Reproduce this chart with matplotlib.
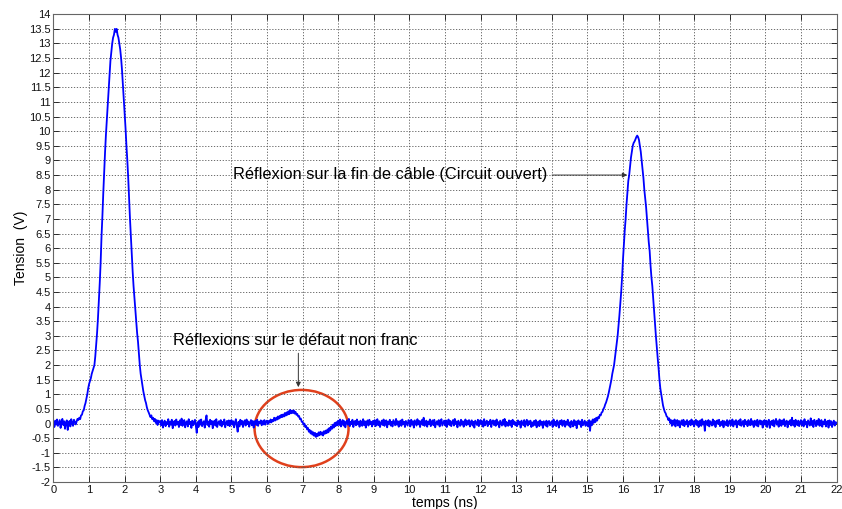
import matplotlib
matplotlib.use("Agg")
import matplotlib.pyplot as plt
from matplotlib.patches import Ellipse
import numpy as np

plt.rcParams['font.family'] = ['Liberation Sans', 'DejaVu Sans']

# sampled voltage, one row per nanosecond (step 0.025 ns)
tension = [
    # 0 ns
    0.05, -0.12, 0.10, -0.04, 0.14, -0.08, 0.02, 0.12, -0.15, 0.06, 0.16, -0.05, 0.08, -0.18, 0.04, 0.11, -0.22, 0.00, 0.09, -0.10,
    0.15, 0.02, -0.08, 0.13, 0.06, -0.03, 0.07, 0.16, 0.12, 0.20, 0.15, 0.28, 0.30, 0.42, 0.45, 0.60, 0.70, 0.85, 1.00, 1.20,
    # 1 ns
    1.35, 1.45, 1.55, 1.70, 1.80, 1.90, 2.00, 2.30, 2.70, 3.10, 3.60, 4.20, 4.80, 5.50, 6.40, 7.10, 7.90, 8.60, 9.30, 9.90,
    10.4, 10.9, 11.4, 11.9, 12.4, 12.7, 13.0, 13.2, 13.3, 13.5, 13.4, 13.5, 13.3, 13.2, 13.0, 12.8, 12.5, 12.1, 11.6, 11.1,
    # 2 ns
    10.6, 10.1, 9.50, 9.00, 8.40, 7.70, 7.00, 6.40, 5.80, 5.20, 4.70, 4.30, 3.90, 3.50, 3.10, 2.80, 2.40, 2.00, 1.70, 1.50,
    1.30, 1.10, 0.95, 0.80, 0.70, 0.55, 0.45, 0.38, 0.30, 0.22, 0.28, 0.15, 0.20, 0.08, 0.16, 0.02, 0.12, -0.05, 0.10, 0.04,
    # 3 ns
    0.08, -0.06, 0.12, -0.14, 0.03, 0.10, -0.09, 0.05, -0.02, 0.15, -0.11, 0.07, -0.04, 0.13, -0.16, 0.02, 0.09, -0.07, 0.14, -0.03,
    0.06, -0.12, 0.11, -0.05, 0.17, -0.08, 0.01, 0.12, -0.13, 0.04, 0.08, -0.10, 0.15, -0.02, 0.06, -0.15, 0.10, -0.06, 0.03, 0.13,
    # 4 ns
    -0.08, -0.32, 0.05, -0.12, 0.11, -0.04, 0.14, -0.09, 0.02, 0.08, -0.14, 0.12, 0.28, -0.05, 0.07, -0.11, 0.13, -0.02, 0.09, -0.16,
    0.04, 0.10, -0.07, 0.15, -0.12, 0.03, 0.08, -0.05, 0.12, -0.10, 0.06, -0.03, 0.14, -0.13, 0.02, 0.09, -0.06, 0.11, -0.09, 0.05,
    # 5 ns
    0.12, -0.04, 0.08, -0.13, 0.03, 0.15, -0.08, -0.28, 0.06, -0.10, 0.13, -0.03, 0.09, -0.12, 0.05, 0.11, -0.07, 0.14, -0.02, 0.07,
    -0.11, 0.04, 0.12, -0.06, 0.09, -0.14, 0.02, 0.10, -0.05, 0.13, -0.08, 0.06, 0.01, 0.11, -0.06, 0.08, -0.03, 0.12, -0.04, 0.07,
    # 6 ns
    0.10, -0.02, 0.09, 0.03, 0.14, 0.04, 0.12, 0.08, 0.20, 0.10, 0.19, 0.13, 0.24, 0.16, 0.26, 0.20, 0.30, 0.22, 0.31, 0.24,
    0.36, 0.27, 0.38, 0.30, 0.42, 0.32, 0.47, 0.35, 0.44, 0.36, 0.45, 0.34, 0.40, 0.30, 0.33, 0.24, 0.26, 0.15, 0.17, 0.06,
    # 7 ns
    0.06, -0.04, 0.00, -0.12, -0.08, -0.20, -0.15, -0.28, -0.22, -0.34, -0.26, -0.38, -0.30, -0.42, -0.32, -0.46, -0.35, -0.43, -0.30, -0.40,
    -0.28, -0.38, -0.30, -0.41, -0.26, -0.35, -0.24, -0.33, -0.20, -0.30, -0.15, -0.24, -0.10, -0.18, -0.04, -0.14, 0.02, -0.09, 0.05, -0.06,
    # 8 ns
    0.10, -0.05, 0.14, -0.10, 0.04, 0.12, -0.07, 0.08, -0.13, 0.03, 0.11, -0.04, 0.16, -0.09, 0.06, -0.02, 0.13, -0.12, 0.05, 0.09,
    -0.06, 0.14, -0.03, 0.07, -0.11, 0.10, 0.02, -0.08, 0.15, -0.05, 0.08, -0.14, 0.04, 0.11, -0.07, 0.13, -0.02, 0.06, -0.10, 0.09,
    # 9 ns
    -0.03, 0.12, -0.09, 0.05, 0.15, -0.06, 0.08, -0.12, 0.02, 0.10, -0.05, 0.14, -0.08, 0.04, 0.11, -0.13, 0.07, -0.01, 0.13, -0.07,
    0.06, -0.10, 0.12, 0.03, -0.06, 0.16, -0.04, 0.08, -0.11, 0.05, 0.10, -0.08, 0.14, -0.02, 0.06, -0.12, 0.09, 0.01, -0.07, 0.12,
    # 10 ns
    0.05, -0.10, 0.13, -0.04, 0.08, -0.14, 0.11, 0.02, -0.07, 0.15, -0.03, 0.09, -0.12, 0.06, 0.12, -0.05, 0.20, -0.08, 0.04, 0.10,
    -0.11, 0.07, -0.02, 0.14, -0.09, 0.05, 0.11, -0.06, 0.13, -0.13, 0.03, 0.08, -0.04, 0.12, -0.10, 0.06, 0.15, -0.07, 0.02, 0.10,
    # 11 ns
    -0.06, 0.11, -0.12, 0.04, 0.14, -0.05, 0.09, -0.09, 0.03, 0.12, -0.07, 0.16, -0.02, 0.07, -0.13, 0.10, 0.01, -0.08, 0.13, -0.04,
    0.08, -0.11, 0.05, 0.14, -0.06, 0.09, -0.03, 0.12, -0.10, 0.04, 0.11, -0.07, 0.06, -0.14, 0.10, 0.02, -0.05, 0.13, -0.09, 0.07,
    # 12 ns
    0.12, -0.04, 0.08, -0.11, 0.15, -0.06, 0.03, 0.10, -0.09, 0.06, -0.02, 0.13, -0.12, 0.07, 0.11, -0.05, 0.09, -0.08, 0.14, -0.03,
    0.05, -0.13, 0.10, 0.02, -0.07, 0.12, -0.04, 0.16, -0.10, 0.06, 0.01, -0.08, 0.11, -0.05, 0.09, -0.12, 0.13, -0.02, 0.07, -0.06,
    # 13 ns
    0.04, -0.09, 0.11, -0.03, 0.07, -0.14, 0.10, 0.02, -0.06, 0.12, -0.11, 0.05, 0.13, -0.07, 0.08, -0.02, 0.10, -0.12, 0.04, -0.08,
    0.09, -0.05, 0.12, -0.13, 0.03, 0.07, -0.09, 0.11, -0.04, 0.06, -0.15, 0.08, 0.00, -0.07, 0.10, -0.11, 0.05, 0.09, -0.06, 0.02,
    # 14 ns
    0.08, -0.12, 0.14, -0.05, 0.06, -0.09, 0.11, 0.03, -0.14, 0.09, -0.02, 0.12, -0.08, 0.05, 0.10, -0.11, 0.07, -0.04, 0.13, -0.07,
    0.04, -0.13, 0.09, 0.02, -0.10, 0.12, -0.05, 0.08, -0.16, 0.06, 0.11, -0.03, 0.07, -0.12, 0.13, -0.06, 0.02, 0.10, -0.08, 0.05,
    # 15 ns
    0.05, -0.10, 0.12, -0.25, 0.08, -0.06, 0.14, 0.02, 0.16, 0.05, 0.20, 0.10, 0.22, 0.18, 0.30, 0.28, 0.38, 0.40, 0.50, 0.55,
    0.65, 0.72, 0.82, 0.92, 1.05, 1.20, 1.35, 1.50, 1.70, 1.85, 2.00, 2.25, 2.50, 2.75, 3.00, 3.35, 3.70, 4.10, 4.50, 5.00,
    # 16 ns
    5.60, 6.10, 6.60, 7.00, 7.50, 7.90, 8.30, 8.50, 8.80, 9.10, 9.30, 9.50, 9.60, 9.65, 9.72, 9.80, 9.85, 9.80, 9.70, 9.50,
    9.30, 9.00, 8.70, 8.40, 8.00, 7.70, 7.40, 7.00, 6.60, 6.20, 5.90, 5.40, 5.00, 4.70, 4.30, 3.85, 3.40, 3.00, 2.60, 2.25,
    # 17 ns
    1.90, 1.50, 1.20, 1.00, 0.80, 0.62, 0.50, 0.40, 0.35, 0.25, 0.22, 0.12, 0.18, 0.02, 0.12, -0.08, 0.10, -0.04, 0.14, -0.10,
    0.06, 0.12, -0.07, 0.09, -0.13, 0.04, 0.11, -0.05, 0.13, -0.09, 0.07, -0.02, 0.12, -0.11, 0.05, 0.09, -0.06, 0.14, -0.03, 0.08,
    # 18 ns
    -0.10, 0.06, 0.13, -0.05, 0.09, -0.12, 0.04, 0.11, -0.08, 0.15, -0.03, 0.07, -0.25, 0.10, 0.02, -0.06, 0.12, -0.10, 0.08, 0.03,
    -0.07, 0.14, -0.04, 0.09, -0.12, 0.06, 0.11, -0.02, 0.13, -0.09, 0.05, -0.05, 0.10, -0.13, 0.08, 0.02, -0.06, 0.12, -0.09, 0.06,
    # 19 ns
    0.11, -0.07, 0.05, 0.14, -0.10, 0.08, -0.03, 0.12, -0.13, 0.06, 0.10, -0.05, 0.15, -0.08, 0.03, 0.09, -0.11, 0.13, -0.02, 0.07,
    -0.09, 0.12, 0.01, -0.06, 0.16, -0.04, 0.08, -0.12, 0.10, 0.04, -0.07, 0.13, -0.10, 0.06, 0.11, -0.03, 0.09, -0.14, 0.05, 0.12,
    # 20 ns
    -0.05, 0.10, -0.12, 0.07, 0.13, -0.15, 0.04, 0.09, -0.06, 0.12, -0.10, 0.05, 0.16, -0.04, 0.08, -0.11, 0.14, 0.02, -0.08, 0.11,
    -0.03, 0.15, -0.09, 0.06, 0.10, -0.13, 0.07, -0.02, 0.12, -0.07, 0.20, -0.05, 0.09, -0.11, 0.13, 0.01, -0.06, 0.10, -0.09, 0.04,
    # 21 ns
    0.12, -0.06, 0.08, -0.10, 0.15, -0.03, 0.06, -0.13, 0.11, 0.02, -0.07, 0.18, -0.05, 0.09, -0.12, 0.13, 0.04, -0.09, 0.10, -0.04,
    0.16, -0.08, 0.05, 0.12, -0.11, 0.07, -0.02, 0.14, -0.10, 0.06, 0.09, -0.14, 0.11, -0.05, 0.08, -0.12, 0.03, 0.10, -0.07, 0.05,
    # 22 ns
    0.02,
]
temps = np.linspace(0, 22, len(tension))

xticks = list(range(0, 23))
yticks = [v / 2 for v in range(-4, 29)]

label_fin = "Réflexion sur la fin de câble (Circuit ouvert)"
label_defaut = "Réflexions sur le défaut non franc"

fig = plt.figure(figsize=(8.42, 5.09), dpi=100)
ax = fig.add_axes([0.0635, 0.053, 0.930, 0.919])

ax.plot(temps, tension, color='#0000ff', lw=1.3)

ax.set_xlim(0, 22)
ax.set_ylim(-2, 14)
ax.set_xticks(xticks)
ax.set_yticks(yticks)
ax.set_xticklabels([f"{v:g}" for v in xticks])
ax.set_yticklabels([f"{v:g}" for v in yticks])
ax.tick_params(direction='in', top=True, right=True, labelsize=8, length=4,
               width=0.6, pad=2, colors='#111111')
ax.grid(True, linestyle=(0, (1.5, 2)), color='#555555', lw=0.6)
for s in ax.spines.values():
    s.set_color('#666666')
    s.set_linewidth(0.8)

ax.set_xlabel("temps (ns)", fontsize=10)
ax.xaxis.set_label_coords(0.5, -0.030)
ax.set_ylabel("Tension  (V)", fontsize=10, labelpad=1)

arrow = dict(arrowstyle='-|>', color='#333333', lw=0.7, mutation_scale=7)
ax.annotate("", xy=(16.2, 8.5), xytext=(13.93, 8.5), arrowprops=arrow)
ax.text(5.04, 8.53, label_fin, fontsize=11.8, va='center', ha='left')

ax.annotate("", xy=(6.88, 1.15), xytext=(6.88, 2.5), arrowprops=arrow)
ax.text(3.35, 2.85, label_defaut, fontsize=11.8, va='center', ha='left')

ax.add_patch(Ellipse((6.97, -0.17), 2.64, 2.64, fill=False,
                     edgecolor='#e0401c', lw=1.8))

fig.savefig("out.png", dpi=100)
